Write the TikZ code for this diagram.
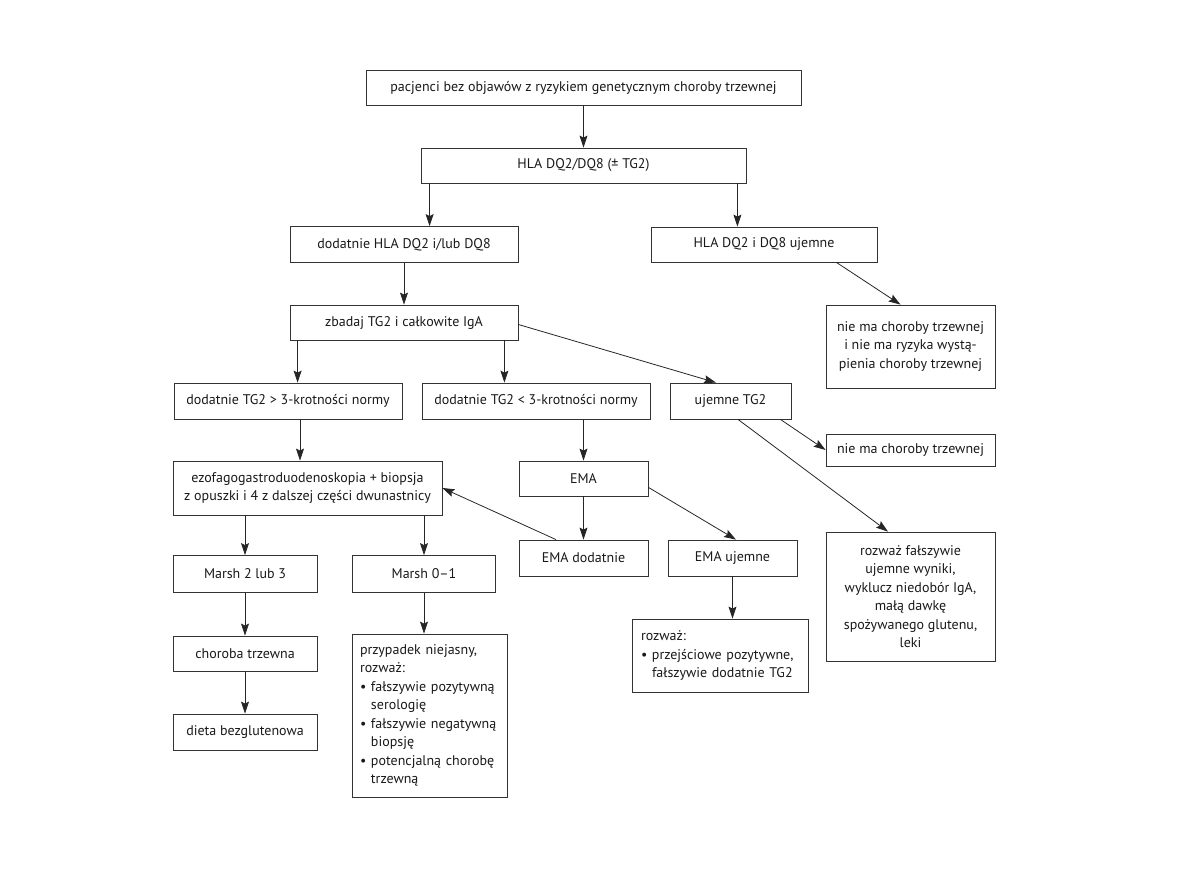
\documentclass[tikz,border=0pt]{standalone}
\usepackage{fontspec}
\setmainfont{PT Sans}
\usetikzlibrary{arrows.meta}

\begin{document}
\begin{tikzpicture}[x=1pt, y=-1pt,
	font=\fontsize{14}{18.5}\selectfont,
	box/.style={draw=black!80, line width=0.8pt, text=black!90, inner sep=0pt, align=center},
	arr/.style={-{Stealth[length=12pt, width=8pt, inset=2pt]}, line width=0.8pt, black!85}]
	\useasboundingbox (0,0) rectangle (1191,893);
	% Ramki
	\node[box, minimum width=435, minimum height=35] (start) at (583.5,87.5)
		{pacjenci bez objawów z ryzykiem genetycznym choroby trzewnej};
	\node[box, minimum width=325, minimum height=35] (hla) at (583.5,165.5) {HLA DQ2/DQ8 (± TG2)};
	\node[box, minimum width=228, minimum height=36] (dqpos) at (404,244.5) {dodatnie HLA DQ2 i/lub DQ8};
	\node[box, minimum width=226, minimum height=35] (dqneg) at (764,244.5) {HLA DQ2 i DQ8 ujemne};
	\node[box, minimum width=169, minimum height=83] (brakryz) at (910.5,346.5)
		{nie ma choroby trzewnej\\i nie ma ryzyka wystą-\\pienia choroby trzewnej};
	\node[box, minimum width=228, minimum height=35] (zbadaj) at (404,322.5) {zbadaj TG2 i całkowite IgA};
	\node[box, minimum width=228, minimum height=36] (tgwys) at (288,401) {dodatnie TG2 > 3-krotności normy};
	\node[box, minimum width=228, minimum height=36] (tgnis) at (536,401) {dodatnie TG2 < 3-krotności normy};
	\node[box, minimum width=121, minimum height=36] (tgujm) at (730.5,401) {ujemne TG2};
	\node[box, minimum width=169, minimum height=32] (brak) at (910.5,450) {nie ma choroby trzewnej};
	\node[box, minimum width=269, minimum height=54] (egd) at (307.5,488)
		{ezofagogastroduodenoskopia + biopsja\\z opuszki i 4 z dalszej części dwunastnicy};
	\node[box, minimum width=129, minimum height=35] (ema) at (583.5,478.5) {EMA};
	\node[box, minimum width=129, minimum height=36] (emapos) at (583.5,558) {EMA dodatnie};
	\node[box, minimum width=129, minimum height=36] (emaneg) at (732.5,558) {EMA ujemne};
	\node[box, minimum width=169, minimum height=129] (falsz) at (910.5,596.5)
		{rozważ fałszywie\\ujemne wyniki,\\wyklucz niedobór IgA,\\małą dawkę\\spożywanego glutenu,\\leki};
	\node[box, minimum width=144, minimum height=37] (marsha) at (245,574) {Marsh 2 lub 3};
	\node[box, minimum width=143, minimum height=37] (marshb) at (424,574) {Marsh 0–1};
	\node[box, minimum width=144, minimum height=35] (ct) at (245,653.5) {choroba trzewna};
	\node[box, minimum width=144, minimum height=36] (dieta) at (245,732) {dieta bezglutenowa};
	\node[box, align=left, inner xsep=8pt, text width=139, minimum height=163] (niejasny) at (429.5,715.5)
		{przypadek niejasny,\\rozważ:\\\textbullet\ fałszywie pozytywną\\\phantom{\textbullet\ }serologię\\
		\textbullet\ fałszywie negatywną\\\phantom{\textbullet\ }biopsję\\
		\textbullet\ potencjalną chorobę\\\phantom{\textbullet\ }trzewną};
	\node[box, align=left, inner xsep=9pt, text width=158, minimum height=73] (przejsc) at (720,655.5)
		{rozważ:\\\textbullet\ przejściowe pozytywne,\\\phantom{\textbullet\ }fałszywie dodatnie TG2};

	% Strzalki
	\draw[arr] (start) -- (hla);
	\draw[arr] ([xshift=9]hla.south west) -- ([xshift=9]hla.south west |- dqpos.north);
	\draw[arr] ([xshift=-9]hla.south east) -- ([xshift=-9]hla.south east |- dqneg.north);
	\draw[arr] ([xshift=-41]dqneg.south east) -- ([xshift=-10]brakryz.north);
	\draw[arr] (dqpos) -- (zbadaj);
	\draw[arr] ([xshift=8]zbadaj.south west) -- ([xshift=8]zbadaj.south west |- tgwys.north);
	\draw[arr] ([xshift=-14]zbadaj.south east) -- ([xshift=-14]zbadaj.south east |- tgnis.north);
	\draw[arr] ([yshift=-2]zbadaj.east) -- ([xshift=-14.5]tgujm.north);
	\draw[arr] ([xshift=12]tgwys.south) -- ([xshift=12]tgwys.south |- egd.north);
	\draw[arr] (ema.north |- tgnis.south) -- (ema.north);
	\draw[arr] ([xshift=-11]tgujm.south east) -- (brak.west);
	\draw[arr] ([xshift=7.5]tgujm.south) -- ([xshift=-22.5]falsz.north);
	\draw[arr] (ema) -- (emapos);
	\draw[arr] ([yshift=9]ema.south east) -- ([xshift=3.5]emaneg.north);
	\draw[arr] ([xshift=-27.5]emapos.north) -- (egd.east);
	\draw[arr] (marsha.north |- egd.south) -- (marsha.north);
	\draw[arr] (marshb.north |- egd.south) -- (marshb.north);
	\draw[arr] (emaneg.south) -- (emaneg.south |- przejsc.north);
	\draw[arr] (marsha) -- (ct);
	\draw[arr] (ct) -- (dieta);
	\draw[arr] (marshb.south) -- (marshb.south |- niejasny.north);
\end{tikzpicture}
\end{document}
